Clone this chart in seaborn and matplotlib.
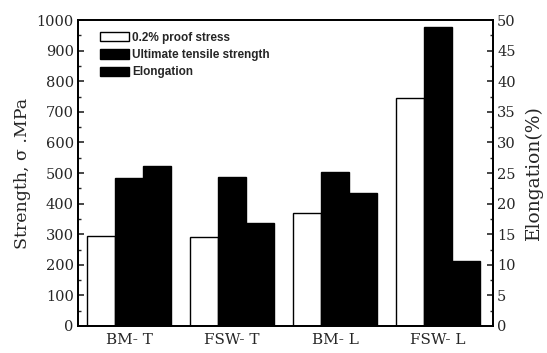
import numpy as np
import pandas as pd
import matplotlib
matplotlib.use("Agg")
import matplotlib.pyplot as plt
from matplotlib.patches import Patch
from matplotlib.ticker import MultipleLocator
import seaborn as sns

categories = ["BM- T", "FSW- T", "BM- L", "FSW- L"]
proof_stress = [295, 290, 370, 745]
tensile_strength = [485, 488, 502, 978]
elongation = [26.2, 16.8, 21.8, 10.6]
series_names = ["0.2% proof stress", "Ultimate tensile strength", "Elongation"]

sns.set_theme(style="ticks")
plt.rcParams["font.family"] = ["DejaVu Serif"]

strength_df = pd.DataFrame({
    "cat": categories * 2,
    "value": proof_stress + tensile_strength,
    "series": [series_names[0]] * 4 + [series_names[1]] * 4,
})
elong_df = pd.DataFrame({
    "cat": categories,
    "value": elongation,
    "series": [series_names[2]] * 4,
})
palette = {series_names[0]: "white", series_names[1]: "black", series_names[2]: "black"}

fig = plt.figure(figsize=(5.47, 3.53), dpi=100)
ax = fig.add_axes([0.1426, 0.0765, 0.7587, 0.8668])
ax2 = ax.twinx()

sns.barplot(data=strength_df, x="cat", y="value", hue="series", hue_order=series_names,
            order=categories, palette=palette, width=0.815, gap=0, dodge=True,
            edgecolor="black", linewidth=1.0, ax=ax, legend=False, errorbar=None)
sns.barplot(data=elong_df, x="cat", y="value", hue="series", hue_order=series_names,
            order=categories, palette=palette, width=0.815, gap=0, dodge=True,
            edgecolor="black", linewidth=1.0, ax=ax2, legend=False, errorbar=None)

ax.set_xlim(-0.495, 3.534)
ax.set_ylim(0, 1000)
ax2.set_ylim(0, 50)

ax.yaxis.set_major_locator(MultipleLocator(100))
ax.yaxis.set_minor_locator(MultipleLocator(50))
ax2.yaxis.set_major_locator(MultipleLocator(5))
ax2.yaxis.set_minor_locator(MultipleLocator(2.5))

for a in (ax, ax2):
    a.tick_params(axis="y", which="major", direction="in", length=4, width=1.2, labelsize=10.5, pad=3)
    a.tick_params(axis="y", which="minor", direction="in", length=2, width=1.0)
    a.tick_params(axis="x", length=0, labelsize=11, pad=5)
    for s in a.spines.values():
        s.set_linewidth(1.3)
        s.set_color("black")

ax.set_xlabel("")
ax.set_ylabel("Strength, σ .MPa", fontsize=12.5, labelpad=4)
ax2.set_ylabel("Elongation(%)", fontsize=13.5, labelpad=6)

handles = [Patch(facecolor=palette[n], edgecolor="black", linewidth=1.0, label=n) for n in series_names]
leg = ax.legend(handles=handles, loc="upper left", bbox_to_anchor=(0.035, 0.985),
                frameon=False, prop={"family": "Liberation Sans", "weight": "bold", "size": 8.5},
                handlelength=2.45, handleheight=0.85, handletextpad=0.3, labelspacing=0.45,
                borderaxespad=0.2)

fig.savefig("out.png", dpi=100)
